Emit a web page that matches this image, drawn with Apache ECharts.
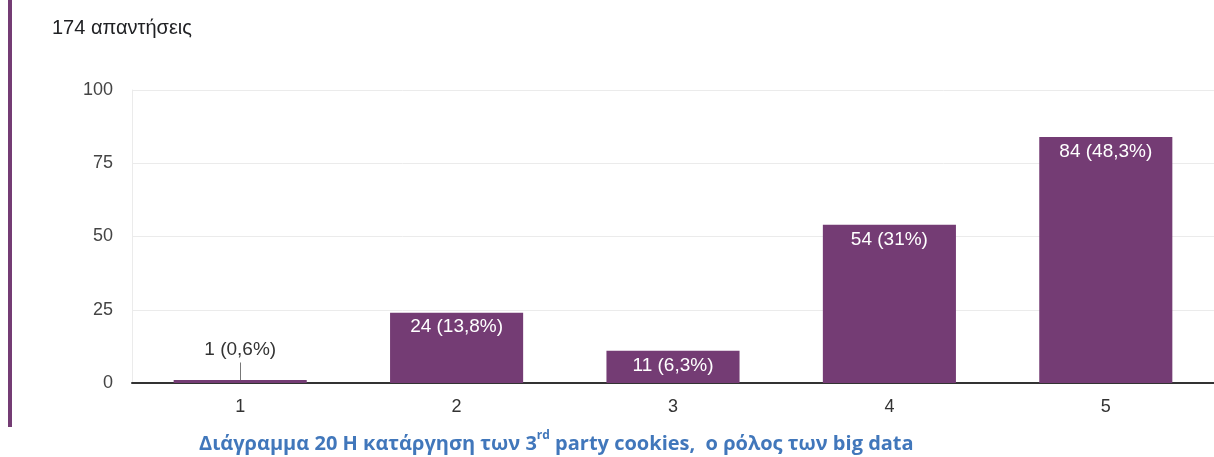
<!DOCTYPE html>
<html>
<head>
<meta charset="utf-8">
<script src="https://cdn.jsdelivr.net/npm/echarts@6/dist/echarts.min.js"></script>
<style>
  html, body { margin: 0; padding: 0; background: #fff; }
  #chart { width: 1214px; height: 457px; }
</style>
</head>
<body>
<div id="chart"></div>
<script>
// Likert-scale answers (1..5) and their counts
const categories = ['1', '2', '3', '4', '5'];
const counts = [1, 24, 11, 54, 84];
const percents = ['0,6', '13,8', '6,3', '31', '48,3'];
const yTicks = [0, 25, 50, 75, 100];
const totalText = '174 απαντήσεις';

const purple = '#743c74';
const font = '"Liberation Sans", Arial, sans-serif';

const barData = counts.map((v, i) => {
  const item = { value: v };
  if (v < 5) {
    // small bar: label sits above with a short leader line
    item.label = { position: 'top', distance: 21, color: '#333' };
  }
  return item;
});

const chart = echarts.init(document.getElementById('chart'));
chart.setOption({
  animation: false,
  title: [
    {
      text: totalText,
      left: 47, top: 13,
      textStyle: { fontFamily: font, fontSize: 20, fontWeight: 'normal', color: '#202124' }
    },
    {
      text: '{a|Διάγραμμα 20 Η κατάργηση των 3}{s|rd}{a| party cookies,  ο ρόλος των big data}',
      left: 199, top: 430,
      padding: 0,
      textStyle: {
        rich: {
          a: { fontFamily: '"Open Sans", sans-serif', fontSize: 20, fontWeight: 'bold', color: '#4177bb', verticalAlign: 'bottom', lineHeight: 24 },
          s: { fontFamily: '"Open Sans", sans-serif', fontSize: 12, fontWeight: 'bold', color: '#4177bb', verticalAlign: 'top', lineHeight: 14 }
        }
      }
    }
  ],
  graphic: [
    { type: 'rect', shape: { x: 8, y: 0, width: 4, height: 427 }, style: { fill: purple } }
  ],
  grid: { left: 132, right: 0, top: 90, bottom: 74, containLabel: false },
  xAxis: {
    type: 'category',
    data: categories,
    axisLine: { lineStyle: { color: '#333', width: 2 } },
    axisTick: { show: false },
    axisLabel: { fontFamily: font, fontSize: 18, color: '#333', margin: 15 }
  },
  yAxis: {
    type: 'value',
    min: yTicks[0], max: yTicks[yTicks.length - 1], interval: 25,
    axisLine: { show: true, lineStyle: { color: '#ebebeb', width: 1 } },
    axisTick: { show: false },
    splitLine: { lineStyle: { color: '#ebebeb', width: 1 } },
    axisLabel: { fontFamily: font, fontSize: 18, color: '#444', margin: 19 }
  },
  series: [{
    type: 'bar',
    data: barData,
    barWidth: '61.5%',
    itemStyle: { color: purple },
    label: {
      show: true,
      position: 'insideTop',
      distance: 5,
      fontFamily: font,
      fontSize: 19,
      color: '#fff',
      formatter: p => p.value + ' (' + percents[p.dataIndex] + '%)'
    },
    markLine: {
      silent: true,
      symbol: 'none',
      label: { show: false },
      lineStyle: { color: '#777', width: 1, type: 'solid' },
      data: [[{ coord: ['1', 1] }, { coord: ['1', 7] }]]
    }
  }]
});
</script>
</body>
</html>
